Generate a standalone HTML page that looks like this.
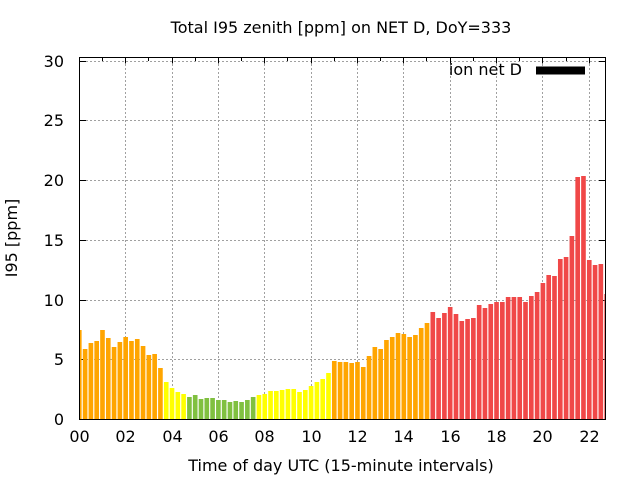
<!DOCTYPE html>
<html>
<head>
<meta charset="utf-8">
<style>
html,body{margin:0;padding:0;background:#fff;}
svg{display:block;}
text{font-family:"DejaVu Sans","Liberation Sans",sans-serif;font-size:16px;fill:#000;}
</style>
</head>
<body>
<svg width="640" height="480" viewBox="0 0 640 480" xmlns="http://www.w3.org/2000/svg">
<rect x="0" y="0" width="640" height="480" fill="#fff"/>
<defs>
<clipPath id="pa"><rect x="80" y="58" width="525.5" height="362"/></clipPath>
</defs>
<!-- grid (behind) -->
<g stroke="#a0a0a0" stroke-width="1" stroke-dasharray="2,2" fill="none">
<path d="M86 359.5H605.5M86 300.5H605.5M86 240.5H605.5M86 180.5H605.5M86 120.5H605.5M86 61.5H605.5"/>
<path d="M125.5 64V419M172.5 64V419M218.5 64V419M264.5 64V419M311.5 64V419M357.5 64V419M403.5 64V419M450.5 64V419M496.5 64V419M542.5 64V419M589.5 64V419"/>
</g>
<!-- ticks (behind) -->
<g stroke="#000" stroke-width="1">
<path d="M79.5 419.5H86M79.5 359.5H86M79.5 300.5H86M79.5 240.5H86M79.5 180.5H86M79.5 120.5H86M79.5 61.5H86"/>
<path d="M605.5 359.5H599M605.5 300.5H599M605.5 240.5H599M605.5 180.5H599M605.5 120.5H599M605.5 61.5H599"/>
<path d="M125.5 57.5V63.5M172.5 57.5V63.5M218.5 57.5V63.5M264.5 57.5V63.5M311.5 57.5V63.5M357.5 57.5V63.5M403.5 57.5V63.5M450.5 57.5V63.5M496.5 57.5V63.5M542.5 57.5V63.5M589.5 57.5V63.5"/>
<path d="M102.5 57.5V61M148.5 57.5V61M195.5 57.5V61M241.5 57.5V61M287.5 57.5V61M334.5 57.5V61M380.5 57.5V61M426.5 57.5V61M473.5 57.5V61M519.5 57.5V61M566.5 57.5V61"/>
<path d="M125.5 419.5V413M172.5 419.5V413M218.5 419.5V413M264.5 419.5V413M311.5 419.5V413M357.5 419.5V413M403.5 419.5V413M450.5 419.5V413M496.5 419.5V413M542.5 419.5V413M589.5 419.5V413"/>
</g>
<g clip-path="url(#pa)">
<g fill="#FFA500">
<rect x="76.98" y="330" width="4.64" height="89"/>
<rect x="82.78" y="349" width="4.64" height="70"/>
<rect x="88.57" y="343" width="4.64" height="76"/>
<rect x="94.37" y="341" width="4.64" height="78"/>
<rect x="100.16" y="330" width="4.64" height="89"/>
<rect x="105.96" y="338" width="4.64" height="81"/>
<rect x="111.75" y="347" width="4.64" height="72"/>
<rect x="117.55" y="342" width="4.64" height="77"/>
<rect x="123.34" y="337" width="4.64" height="82"/>
<rect x="129.14" y="341" width="4.64" height="78"/>
<rect x="134.93" y="339" width="4.64" height="80"/>
<rect x="140.73" y="346" width="4.64" height="73"/>
<rect x="146.52" y="355" width="4.64" height="64"/>
<rect x="152.32" y="354" width="4.64" height="65"/>
<rect x="158.11" y="368" width="4.64" height="51"/>
</g>
<g fill="#FFFF00">
<rect x="163.91" y="382" width="4.64" height="37"/>
<rect x="169.70" y="388" width="4.64" height="31"/>
<rect x="175.50" y="392" width="4.64" height="27"/>
<rect x="181.29" y="394" width="4.64" height="25"/>
</g>
<g fill="#80C040">
<rect x="187.09" y="397" width="4.64" height="22"/>
<rect x="192.88" y="395" width="4.64" height="24"/>
<rect x="198.68" y="399" width="4.64" height="20"/>
<rect x="204.47" y="398" width="4.64" height="21"/>
<rect x="210.27" y="398" width="4.64" height="21"/>
<rect x="216.06" y="400" width="4.64" height="19"/>
<rect x="221.86" y="400" width="4.64" height="19"/>
<rect x="227.65" y="402" width="4.64" height="17"/>
<rect x="233.45" y="401" width="4.64" height="18"/>
<rect x="239.24" y="402" width="4.64" height="17"/>
<rect x="245.04" y="400" width="4.64" height="19"/>
<rect x="250.83" y="397" width="4.64" height="22"/>
</g>
<g fill="#FFFF00">
<rect x="256.63" y="395" width="4.64" height="24"/>
<rect x="262.42" y="394" width="4.64" height="25"/>
<rect x="268.22" y="391" width="4.64" height="28"/>
<rect x="274.01" y="391" width="4.64" height="28"/>
<rect x="279.81" y="390" width="4.64" height="29"/>
<rect x="285.60" y="389" width="4.64" height="30"/>
<rect x="291.40" y="389" width="4.64" height="30"/>
<rect x="297.19" y="392" width="4.64" height="27"/>
<rect x="302.99" y="390" width="4.64" height="29"/>
<rect x="308.78" y="386" width="4.64" height="33"/>
<rect x="314.58" y="382" width="4.64" height="37"/>
<rect x="320.37" y="379" width="4.64" height="40"/>
<rect x="326.17" y="373" width="4.64" height="46"/>
</g>
<g fill="#FFA500">
<rect x="331.96" y="361" width="4.64" height="58"/>
<rect x="337.76" y="362" width="4.64" height="57"/>
<rect x="343.55" y="362" width="4.64" height="57"/>
<rect x="349.35" y="363" width="4.64" height="56"/>
<rect x="355.14" y="362" width="4.64" height="57"/>
<rect x="360.94" y="367" width="4.64" height="52"/>
<rect x="366.73" y="356" width="4.64" height="63"/>
<rect x="372.53" y="347" width="4.64" height="72"/>
<rect x="378.32" y="349" width="4.64" height="70"/>
<rect x="384.12" y="340" width="4.64" height="79"/>
<rect x="389.91" y="337" width="4.64" height="82"/>
<rect x="395.71" y="333" width="4.64" height="86"/>
<rect x="401.50" y="334" width="4.64" height="85"/>
<rect x="407.30" y="337" width="4.64" height="82"/>
<rect x="413.09" y="335" width="4.64" height="84"/>
<rect x="418.89" y="328" width="4.64" height="91"/>
<rect x="424.68" y="323" width="4.64" height="96"/>
</g>
<g fill="#F04848">
<rect x="430.48" y="312" width="4.64" height="107"/>
<rect x="436.27" y="318" width="4.64" height="101"/>
<rect x="442.07" y="313" width="4.64" height="106"/>
<rect x="447.86" y="307" width="4.64" height="112"/>
<rect x="453.66" y="314" width="4.64" height="105"/>
<rect x="459.45" y="321" width="4.64" height="98"/>
<rect x="465.25" y="319" width="4.64" height="100"/>
<rect x="471.04" y="318" width="4.64" height="101"/>
<rect x="476.84" y="305" width="4.64" height="114"/>
<rect x="482.63" y="308" width="4.64" height="111"/>
<rect x="488.43" y="304" width="4.64" height="115"/>
<rect x="494.22" y="302" width="4.64" height="117"/>
<rect x="500.02" y="302" width="4.64" height="117"/>
<rect x="505.81" y="297" width="4.64" height="122"/>
<rect x="511.61" y="297" width="4.64" height="122"/>
<rect x="517.40" y="297" width="4.64" height="122"/>
<rect x="523.20" y="302" width="4.64" height="117"/>
<rect x="528.99" y="296" width="4.64" height="123"/>
<rect x="534.79" y="292" width="4.64" height="127"/>
<rect x="540.58" y="283" width="4.64" height="136"/>
<rect x="546.38" y="275" width="4.64" height="144"/>
<rect x="552.17" y="276" width="4.64" height="143"/>
<rect x="557.97" y="259" width="4.64" height="160"/>
<rect x="563.76" y="257" width="4.64" height="162"/>
<rect x="569.56" y="236" width="4.64" height="183"/>
<rect x="575.35" y="177" width="4.64" height="242"/>
<rect x="581.15" y="176" width="4.64" height="243"/>
<rect x="586.94" y="260" width="4.64" height="159"/>
<rect x="592.74" y="265" width="4.64" height="154"/>
<rect x="598.53" y="264" width="4.64" height="155"/>
<rect x="604.33" y="294" width="4.64" height="125"/>
</g>
</g>
<!-- border -->
<rect x="79.5" y="57.5" width="526" height="362" fill="none" stroke="#000" stroke-width="1"/>
<!-- y tick labels -->
<g text-anchor="end">
<text x="64" y="425">0</text>
<text x="64" y="365">5</text>
<text x="64" y="306">10</text>
<text x="64" y="246">15</text>
<text x="64" y="186">20</text>
<text x="64" y="126">25</text>
<text x="64" y="67">30</text>
</g>
<!-- x tick labels -->
<g text-anchor="middle">
<text x="79.5" y="442">00</text>
<text x="125.5" y="442">02</text>
<text x="172.5" y="442">04</text>
<text x="218.5" y="442">06</text>
<text x="264.5" y="442">08</text>
<text x="311.5" y="442">10</text>
<text x="357.5" y="442">12</text>
<text x="403.5" y="442">14</text>
<text x="450.5" y="442">16</text>
<text x="496.5" y="442">18</text>
<text x="542.5" y="442">20</text>
<text x="589.5" y="442">22</text>
</g>
<!-- titles -->
<text x="341" y="33" text-anchor="middle">Total I95 zenith [ppm] on NET D, DoY=333</text>
<text x="341" y="471" text-anchor="middle">Time of day UTC (15-minute intervals)</text>
<text transform="translate(17,238) rotate(-90)" text-anchor="middle">I95 [ppm]</text>
<!-- legend -->
<text x="522" y="75" text-anchor="end">ion net D</text>
<rect x="536" y="66.5" width="49" height="8" fill="#000"/>
</svg>
</body>
</html>
